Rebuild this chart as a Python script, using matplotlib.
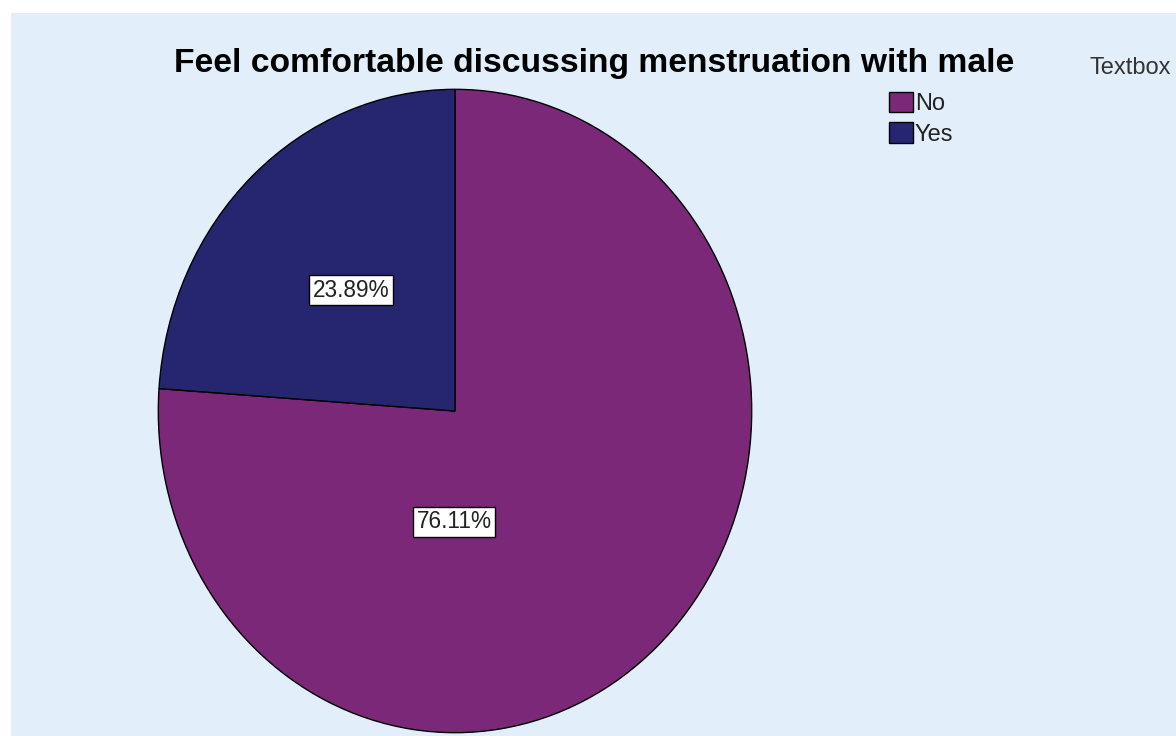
import matplotlib
matplotlib.use("Agg")
import matplotlib.pyplot as plt
from matplotlib.patches import Rectangle

# Dữ liệu
labels = ["No", "Yes"]
percents = [76.11, 23.89]
colors = ["#7b2878", "#262670"]

plt.rcParams['font.family'] = ['Liberation Sans', 'DejaVu Sans']

W, H = 1176, 736
fig = plt.figure(figsize=(W / 100, H / 100), dpi=100, facecolor="white")

# Nền xanh nhạt
fig.patches.append(Rectangle((11 / W, 0), 1, (H - 13) / H, transform=fig.transFigure,
                             facecolor="#e2eefa", edgecolor="none", zorder=-10))

# Trục cho biểu đồ tròn (ảnh gốc bị kéo giãn: tâm ~ (455, 411), rx ~ 297, ry ~ 322)
cx, cy, rx, ry = 455, 411, 297, 322
ax = fig.add_axes([(cx - rx) / W, (H - cy - ry) / H, 2 * rx / W, 2 * ry / H])
ax.set_facecolor("none")
ax.set_zorder(2)

wedges, texts, autotexts = ax.pie(
    percents, colors=colors, startangle=90, counterclock=False,
    autopct=lambda p: f"{p:.2f}%", pctdistance=0.513,
    wedgeprops=dict(edgecolor="black", linewidth=1.0),
    textprops=dict(fontsize=16.3, color="#222222"))
ax.set_aspect("auto")
ax.set_xlim(-1.001, 1.001)
ax.set_ylim(-1.001, 1.001)
ax.axis("off")

# Nhãn "No" nằm ngay dưới tâm như bản gốc
autotexts[0].set_position((-0.003, -0.345))
for t in autotexts:
    t.set_bbox(dict(facecolor="white", edgecolor="black", linewidth=1.0, pad=2.5))

fig.text(594.5 / W, 1 - 72 / H, "Feel comfortable discussing menstruation with male",
         ha="center", va="baseline", fontsize=24.2, fontweight="bold", color="black")
fig.text(1090 / W, 1 - 74 / H, "Textbox", ha="left", va="baseline", fontsize=17,
         color="#333333")

leg = fig.legend(wedges, labels, loc="upper left", bbox_to_anchor=(889 / W, 1 - 92 / H),
                 frameon=False, fontsize=17, handlelength=1.0, handleheight=0.95,
                 handletextpad=0.1, labelspacing=0.3, borderpad=0, borderaxespad=0)
for t in leg.get_texts():
    t.set_color("#222222")

fig.savefig("out.png", dpi=100, facecolor="white")
